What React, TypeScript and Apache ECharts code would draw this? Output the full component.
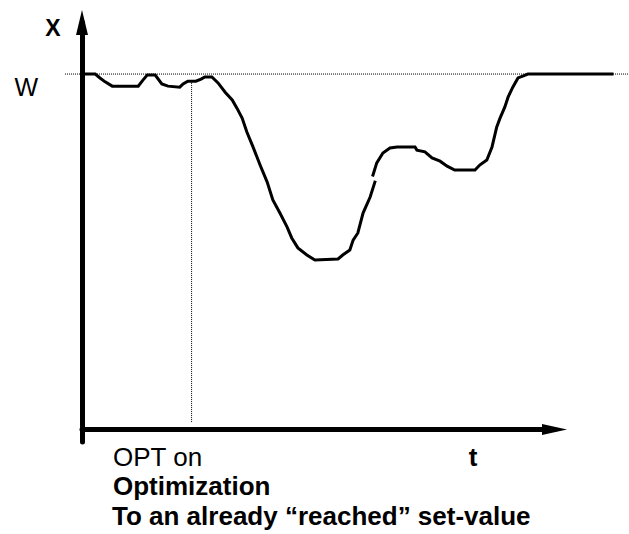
import React, { useEffect, useRef } from 'react';
import * as echarts from 'echarts';

// Process value X over time t (t: 0..100 on the drawn arrow axis; X: set-value W = 100)
const processT = [
  0, 2.8, 3.8, 4.9, 6.4, 11.9, 12.9, 13.8, 15.5, 16.9, 18.2, 20.7, 21.4, 22.4, 24.1, 25.2, 26.0, 27.5,
  28.8, 30.3, 31.8, 32.8, 33.9, 34.9, 36.2, 37.7, 39.2, 40.4, 41.9, 43.4, 44.4, 45.7, 47.6, 49.3,
  54.2, 55.2, 56.7, 57.4, 58.4, 59.5, 61.0, 62.0, 62.0,
  61.6, 62.4, 63.7, 65.2, 66.7, 70.5, 70.9, 72.6, 74.1, 75.8, 77.3, 78.9, 83.2, 84.2, 85.7, 86.8,
  87.8, 88.5, 89.5, 90.2, 91.2, 92.3, 93.3, 94.4, 112.2,
];
const processX: (number | null)[] = [
  100, 100, 98.9, 97.8, 96.6, 96.6, 98.3, 99.7, 99.7, 97.2, 96.6, 96.3, 97.2, 98.0, 98.0, 98.6, 99.2, 99.2,
  97.5, 94.9, 92.7, 90.4, 87.6, 83.7, 79.5, 74.4, 69.6, 64.6, 60.9, 57.0, 53.9, 51.1, 49.1, 47.7,
  48.0, 49.1, 50.5, 53.3, 55.3, 60.9, 65.4, 69.6, null,
  71.6, 75.0, 77.8, 79.2, 79.5, 79.5, 78.6, 78.1, 76.4, 75.5, 74.1, 73.0, 73.0, 74.4, 75.8, 79.5,
  85.1, 87.6, 90.7, 93.5, 96.3, 98.9, 99.4, 100, 100,
];

// Set-value W reference (dotted) and the "OPT on" instant (dotted)
const setValue = 100;
const setValueSpanT = [-3.6, 115.8];
const optOnT = 23.2;
const optOnSpanX = [2.1, 97.9];

// Axis labels
const yTickValues = [100];
const yTickLabels = ['W'];
const yAxisName = 'X';
const xAxisName = 't';
const captionLines = ['OPT on', 'Optimization', 'To an already \u201creached\u201d set-value'];

const FONT = '"Liberation Sans", Arial, Helvetica, sans-serif';

export default function App() {
  const ref = useRef<HTMLDivElement>(null);

  useEffect(() => {
    if (!ref.current) return;
    const chart = echarts.init(ref.current, undefined, { renderer: 'svg' });

    const curveData = processT.map((t, i) => [t, processX[i] == null ? '-' : processX[i]]);
    const wData = setValueSpanT.map((t) => [t, setValue]);
    const optData = optOnSpanX.map((x) => [optOnT, x]);

    const hiddenAxis = {
      show: false,
      axisLine: { show: false },
      axisTick: { show: false },
      axisLabel: { show: false },
      splitLine: { show: false },
    };

    chart.setOption({
      animation: false,
      backgroundColor: '#fff',
      grid: [
        // plotting area for the data (extends past the arrow axes, same scale)
        { left: 65, right: 0, top: 22.5, bottom: 92, containLabel: false, outerBoundsMode: 'none' },
        // the drawn arrow axes
        { left: 82, right: 74.5, top: 22.5, bottom: 92, containLabel: false, outerBoundsMode: 'none' },
      ],
      xAxis: [
        { ...hiddenAxis, type: 'value', gridIndex: 0, min: -3.6, max: 115.8 },
        {
          type: 'value',
          gridIndex: 1,
          min: 0,
          max: 100,
          axisLine: {
            show: true,
            onZero: true,
            symbol: ['none', 'triangle'],
            symbolSize: [11, 25],
            lineStyle: { color: '#000', width: 5 },
          },
          axisTick: { show: false },
          axisLabel: { show: false },
          splitLine: { show: false },
        },
      ],
      yAxis: [
        { ...hiddenAxis, type: 'value', gridIndex: 0, min: -3.5, max: 114.5 },
        {
          type: 'value',
          gridIndex: 1,
          min: -3.5,
          max: 114.5,
          axisLine: {
            show: true,
            onZero: true,
            symbol: ['none', 'triangle'],
            symbolSize: [12, 25],
            lineStyle: { color: '#000', width: 5 },
          },
          axisTick: { show: false },
          axisLabel: {
            show: true,
            customValues: yTickValues,
            formatter: (v: number) => {
              const i = yTickValues.indexOf(v);
              return i >= 0 ? yTickLabels[i] : '';
            },
            margin: 44,
            color: '#000',
            fontSize: 25,
            fontFamily: FONT,
            verticalAlign: 'top',
            lineHeight: 25,
          },
          splitLine: { show: false },
        },
      ],
      series: [
        {
          name: 'W',
          type: 'line',
          xAxisIndex: 0,
          yAxisIndex: 0,
          data: wData,
          showSymbol: false,
          silent: true,
          lineStyle: { color: '#000', width: 1, type: [1, 1] },
          z: 1,
        },
        {
          name: 'OPT on',
          type: 'line',
          xAxisIndex: 0,
          yAxisIndex: 0,
          data: optData,
          showSymbol: false,
          silent: true,
          lineStyle: { color: '#000', width: 1, type: [1, 1] },
          z: 1,
        },
        {
          name: 'X',
          type: 'line',
          xAxisIndex: 0,
          yAxisIndex: 0,
          data: curveData,
          showSymbol: false,
          connectNulls: false,
          silent: true,
          lineStyle: { color: '#000', width: 3, cap: 'square', join: 'miter' },
          z: 3,
        },
      ],
      graphic: [
        {
          type: 'text',
          x: 53,
          y: 28,
          style: { text: yAxisName, font: `bold 23px ${FONT}`, fill: '#000', align: 'center', verticalAlign: 'middle', lineHeight: 22 },
        },
        {
          type: 'text',
          x: 473,
          y: 457,
          style: { text: xAxisName, font: `bold 26px ${FONT}`, fill: '#000', align: 'center', verticalAlign: 'middle', lineHeight: 24 },
        },
        {
          type: 'text',
          x: 113,
          y: 457,
          style: { text: captionLines[0], font: `26px ${FONT}`, fill: '#000', align: 'left', verticalAlign: 'middle', lineHeight: 24 },
        },
        {
          type: 'text',
          x: 113,
          y: 486,
          style: { text: captionLines[1], font: `bold 26px ${FONT}`, fill: '#000', align: 'left', verticalAlign: 'middle', lineHeight: 24 },
        },
        {
          type: 'text',
          x: 112,
          y: 516,
          style: { text: captionLines[2], font: `bold 26px ${FONT}`, fill: '#000', align: 'left', verticalAlign: 'middle', lineHeight: 24 },
        },
      ],
    });

    return () => chart.dispose();
  }, []);

  return (
    <div
      ref={ref}
      style={{ position: 'absolute', left: 0, top: 0, width: 629, height: 534, background: '#fff' }}
    />
  );
}
